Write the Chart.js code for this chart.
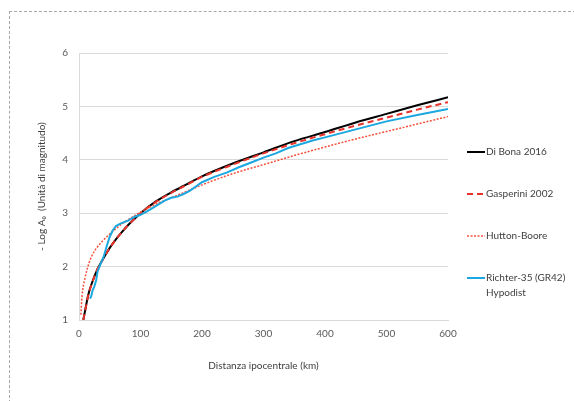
<!DOCTYPE html>
<html>
<head>
<meta charset="utf-8">
<script src="https://cdn.jsdelivr.net/npm/chart.js@4.4.1/dist/chart.umd.min.js"></script>
<style>
  html, body { margin: 0; padding: 0; background: #fff; }
  #wrap { position: relative; width: 574px; height: 401px; overflow: hidden; }
  #frame { position: absolute; left: 9px; top: 11px; right: -2px; bottom: -2px;
           border-top: 1px dashed #a8a8a8; border-left: 1px dashed #a8a8a8; }
  #chart { position: absolute; left: 0; top: 0; }
</style>
</head>
<body>
<div id="wrap">
  <div id="frame"></div>
  <canvas id="chart" width="574" height="401"></canvas>
</div>
<script>
// distanze (km) e valori di -log A0
const diBonaX = [7, 10, 15, 20, 30, 40, 50, 60, 70, 80, 90, 100, 125, 150, 175, 200, 250, 300, 350, 400, 450, 500, 550, 600];
const diBonaY = [1.00, 1.18, 1.47, 1.66, 1.95, 2.16, 2.35, 2.51, 2.65, 2.78, 2.89, 3.00, 3.22, 3.39, 3.54, 3.69, 3.93, 4.14, 4.35, 4.52, 4.70, 4.86, 5.02, 5.17];

const gasperiniX = [7, 10, 15, 20, 30, 40, 50, 60, 70, 80, 90, 100, 125, 150, 175, 200, 250, 300, 350, 400, 450, 500, 550, 600];
const gasperiniY = [1.00, 1.17, 1.46, 1.65, 1.95, 2.16, 2.35, 2.51, 2.65, 2.78, 2.89, 3.00, 3.21, 3.38, 3.53, 3.68, 3.91, 4.12, 4.31, 4.48, 4.64, 4.79, 4.94, 5.08];

const huttonX = [3, 5, 10, 15, 20, 30, 40, 50, 60, 70, 80, 90, 100, 125, 150, 175, 200, 250, 300, 350, 400, 450, 500, 550, 600];
const huttonY = [1.10, 1.45, 1.80, 2.02, 2.18, 2.37, 2.50, 2.61, 2.71, 2.80, 2.88, 2.95, 3.02, 3.17, 3.29, 3.41, 3.53, 3.74, 3.91, 4.08, 4.24, 4.39, 4.53, 4.67, 4.81];

const richterX = [18, 20, 22, 25, 28, 30, 35, 40, 45, 50, 55, 60, 65, 70, 80, 90, 100, 110, 120, 130, 140, 150, 160, 170, 180, 190, 200, 220, 240, 260, 280, 300, 320, 340, 360, 380, 400, 450, 500, 550, 600];
const richterY = [1.40, 1.45, 1.55, 1.63, 1.75, 1.90, 2.05, 2.18, 2.38, 2.56, 2.68, 2.76, 2.79, 2.82, 2.86, 2.93, 2.97, 3.03, 3.10, 3.17, 3.24, 3.29, 3.31, 3.36, 3.42, 3.50, 3.58, 3.68, 3.76, 3.86, 3.95, 4.04, 4.12, 4.22, 4.29, 4.36, 4.42, 4.57, 4.72, 4.84, 4.95];

const seriesNames = ['Di Bona 2016', 'Gasperini 2002', 'Hutton-Boore', 'Richter-35 (GR42)\nHypodist'];
const xTicks = [0, 100, 200, 300, 400, 500, 600];
const yTicks = [1, 2, 3, 4, 5, 6];

function toPoints(xs, ys) {
    return xs.map((x, i) => ({ x: x, y: ys[i] }));
}

const tickColor = '#595959';
const gridColor = '#d9d9d9';
const legendY = [152, 194, 236, 278];

// legenda a destra disegnata a mano (serve il testo su due righe)
const sideLegend = {
    id: 'sideLegend',
    afterDraw(chart) {
        const ctx = chart.ctx;
        chart.data.datasets.forEach((ds, i) => {
            const y = legendY[i];
            ctx.save();
            ctx.strokeStyle = ds.borderColor;
            ctx.lineWidth = ds.borderWidth;
            ctx.setLineDash(ds.borderDash || []);
            ctx.beginPath();
            ctx.moveTo(467, y);
            ctx.lineTo(485, y);
            ctx.stroke();
            ctx.setLineDash([]);
            ctx.fillStyle = '#404040';
            ctx.font = '10px Lato';
            ctx.textBaseline = 'middle';
            ds.label.split('\n').forEach((line, k) => {
                ctx.fillText(line, 486, y + k * 14.5);
            });
            ctx.restore();
        });
    }
};

new Chart(document.getElementById('chart'), {
    type: 'line',
    data: {
        datasets: [
            {
                label: seriesNames[0],
                data: toPoints(diBonaX, diBonaY),
                borderColor: '#000000',
                borderWidth: 2,
                cubicInterpolationMode: 'monotone',
                order: 4
            },
            {
                label: seriesNames[1],
                data: toPoints(gasperiniX, gasperiniY),
                borderColor: '#e8322a',
                borderWidth: 2,
                borderDash: [6, 4],
                cubicInterpolationMode: 'monotone',
                order: 3
            },
            {
                label: seriesNames[2],
                data: toPoints(huttonX, huttonY),
                borderColor: '#f5503a',
                borderWidth: 1.5,
                borderDash: [2, 1.5],
                cubicInterpolationMode: 'monotone',
                order: 2
            },
            {
                label: seriesNames[3],
                data: toPoints(richterX, richterY),
                borderColor: '#1ba7e0',
                borderWidth: 2,
                tension: 0,
                order: 1
            }
        ]
    },
    options: {
        responsive: false,
        animation: false,
        pointRadius: 0,
        elements: { point: { radius: 0 } },
        layout: { padding: { left: 30, top: 53, right: 126, bottom: 0 } },
        plugins: {
            legend: { display: false },
            tooltip: { enabled: false }
        },
        scales: {
            x: {
                type: 'linear',
                min: 0,
                max: 600,
                afterBuildTicks(scale) { scale.ticks = xTicks.map(v => ({ value: v })); },
                afterFit(scale) { scale.height = 81; },
                grid: { display: false, drawTicks: false },
                border: { color: gridColor },
                ticks: { color: tickColor, font: { family: 'Lato', size: 10 }, padding: 8 },
                title: {
                    display: true,
                    text: 'Distanza ipocentrale (km)',
                    color: '#404040',
                    font: { family: 'Lato', size: 10 },
                    padding: { top: 0, bottom: 29 }
                }
            },
            y: {
                min: 1,
                max: 6,
                afterBuildTicks(scale) { scale.ticks = yTicks.map(v => ({ value: v })); },
                afterFit(scale) { scale.width = 49; },
                grid: { color: gridColor, drawTicks: false },
                border: { color: gridColor },
                ticks: { color: tickColor, font: { family: 'Lato', size: 10 }, padding: 11 },
                title: {
                    display: true,
                    text: '- Log A\u2080  (Unità di magnitudo)',
                    color: '#404040',
                    font: { family: 'Lato', size: 10 },
                    padding: { top: 6, bottom: 0 }
                }
            }
        }
    },
    plugins: [sideLegend]
});
</script>
</body>
</html>
